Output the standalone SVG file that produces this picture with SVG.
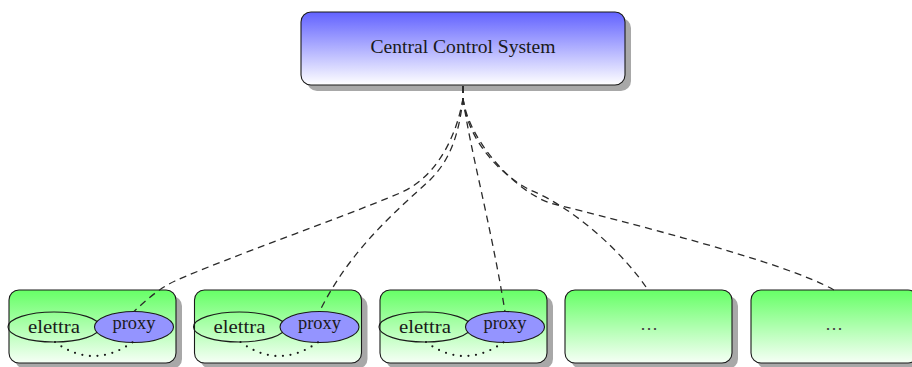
<svg xmlns="http://www.w3.org/2000/svg" width="912" height="367" viewBox="0 0 912 367">
  <defs>
    <linearGradient id="gBlue" x1="0" y1="0" x2="0" y2="1">
      <stop offset="0" stop-color="#6262ff"/>
      <stop offset="1" stop-color="#ffffff"/>
    </linearGradient>
    <linearGradient id="gGreen" x1="0" y1="0" x2="0" y2="1">
      <stop offset="0" stop-color="#66ff66"/>
      <stop offset="1" stop-color="#f6fff6"/>
    </linearGradient>
    <filter id="blur" x="-10%" y="-10%" width="120%" height="130%">
      <feGaussianBlur stdDeviation="0.6"/>
    </filter>
  </defs>
  <style>
    .shadow { fill: #a8a8a8; filter: url(#blur); }
    .box { stroke: #1a1a1a; stroke-width: 1.1; }
    .central { fill: url(#gBlue); }
    .site { fill: url(#gGreen); }
    .ell { fill: none; stroke: #1a1a1a; stroke-width: 1.1; }
    .proxy { fill: #9494ff; stroke: #1a1a1a; stroke-width: 1.1; }
    .lbl { font-family: "Liberation Serif", "DejaVu Serif", serif; font-size: 18px; fill: #1a1a1a; text-anchor: middle; }
    .dots { font-family: "DejaVu Serif", serif; font-size: 18px; fill: #444; text-anchor: middle; }
    .dash { fill: none; stroke: #2a2a2a; stroke-width: 1.3; stroke-dasharray: 7 5; }
    .dotted { fill: none; stroke: #1a1a1a; stroke-width: 2.2; stroke-linecap: round; stroke-dasharray: 0 7.6; }
  </style>

  <g id="central">
    <rect class="shadow" x="307" y="18" width="324" height="73" rx="10"/>
    <rect class="box central" x="301" y="12" width="324" height="73" rx="10"/>
    <text class="lbl" x="463" y="53" textLength="185" lengthAdjust="spacingAndGlyphs">Central Control System</text>
  </g>

  <g id="site1">
    <rect class="shadow" x="15" y="296" width="167" height="73" rx="10"/>
    <rect class="box site" x="9" y="290" width="167" height="73" rx="10"/>
    <ellipse class="ell" cx="54" cy="327" rx="46" ry="15"/>
    <text class="lbl" x="54" y="333" textLength="52" lengthAdjust="spacingAndGlyphs">elettra</text>
    <ellipse class="proxy" cx="134" cy="327" rx="39.5" ry="15.5"/>
    <text class="lbl" x="134" y="329" textLength="43" lengthAdjust="spacingAndGlyphs">proxy</text>
    <path class="dotted" d="M55,342 Q93,370 133,342"/>
  </g>

  <g id="site2">
    <rect class="shadow" x="200.5" y="296" width="167" height="73" rx="10"/>
    <rect class="box site" x="194.5" y="290" width="167" height="73" rx="10"/>
    <ellipse class="ell" cx="239.5" cy="327" rx="46" ry="15"/>
    <text class="lbl" x="239.5" y="333" textLength="52" lengthAdjust="spacingAndGlyphs">elettra</text>
    <ellipse class="proxy" cx="319.5" cy="327" rx="39.5" ry="15.5"/>
    <text class="lbl" x="319.5" y="329" textLength="43" lengthAdjust="spacingAndGlyphs">proxy</text>
    <path class="dotted" d="M240.5,342 Q278.5,370 318.5,342"/>
  </g>

  <g id="site3">
    <rect class="shadow" x="386" y="296" width="167" height="73" rx="10"/>
    <rect class="box site" x="380" y="290" width="167" height="73" rx="10"/>
    <ellipse class="ell" cx="425" cy="327" rx="46" ry="15"/>
    <text class="lbl" x="425" y="333" textLength="52" lengthAdjust="spacingAndGlyphs">elettra</text>
    <ellipse class="proxy" cx="505" cy="327" rx="39.5" ry="15.5"/>
    <text class="lbl" x="505" y="329" textLength="43" lengthAdjust="spacingAndGlyphs">proxy</text>
    <path class="dotted" d="M426,342 Q464,370 504,342"/>
  </g>

  <g id="site4">
    <rect class="shadow" x="571" y="296" width="167" height="73" rx="10"/>
    <rect class="box site" x="565" y="290" width="167" height="73" rx="10"/>
    <text class="dots" x="648.5" y="334">⋯</text>
  </g>

  <g id="site5">
    <rect class="shadow" x="757" y="296" width="167" height="73" rx="10"/>
    <rect class="box site" x="751" y="290" width="167" height="73" rx="10"/>
    <text class="dots" x="834" y="334">⋯</text>
  </g>

  <g id="connectors">
    <path class="dash" d="M463,86 L463,98 C458,130 440,176 400,193 C340,218.5 225,258.5 175,281 C160,287.75 145,301 134,311.5"/>
    <path class="dash" d="M463,86 L463,98 C459,135 450,160 430,180 C395,212 350,250 319.5,311.5"/>
    <path class="dash" d="M463,86 L463,98 C470,150 490,220 505,311.5"/>
    <path class="dash" d="M463,86 L463,98 C467,140 500,174.5 530,190 C575,208 625,255 648,290"/>
    <path class="dash" d="M463,86 L463,98 C468,140 515,191 550,203 C625,222 785,262 834,290"/>
  </g>
</svg>
